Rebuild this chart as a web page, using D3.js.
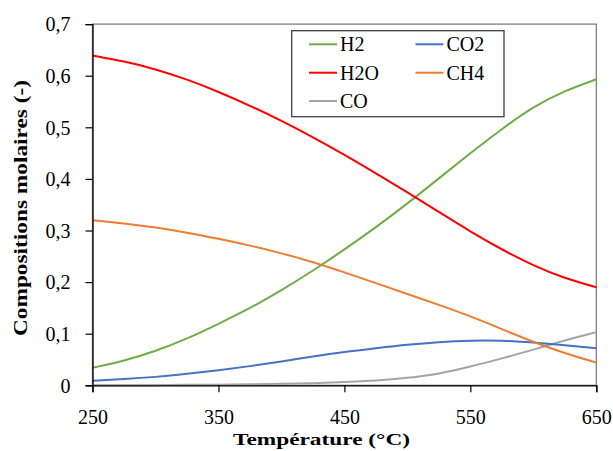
<!DOCTYPE html>
<html><head><meta charset="utf-8">
<script src="https://cdn.jsdelivr.net/npm/d3@7"></script>
<style>
html,body{margin:0;padding:0;background:#fff;}
svg{display:block;}
</style></head>
<body>
<svg id="chart" width="613" height="451"></svg>
<script>
// ---- data ----
const temperatures = [250,275,300,325,350,375,400,425,450,475,500,525,550,575,600,625,650];
const H2  = [0.034,0.047,0.066,0.090,0.119,0.149,0.184,0.222,0.263,0.306,0.352,0.401,0.450,0.497,0.540,0.571,0.593];
const H2O = [0.639,0.628,0.613,0.593,0.569,0.542,0.513,0.481,0.447,0.411,0.374,0.336,0.298,0.263,0.232,0.207,0.190];
const CO2 = [0.009,0.012,0.016,0.022,0.029,0.037,0.046,0.056,0.065,0.072,0.079,0.084,0.087,0.087,0.083,0.078,0.072];
const CH4 = [0.320,0.314,0.306,0.296,0.284,0.271,0.256,0.239,0.219,0.198,0.177,0.156,0.134,0.109,0.084,0.062,0.044];
const CO  = [0.000,0.000,0.000,0.001,0.001,0.002,0.003,0.004,0.006,0.009,0.014,0.022,0.036,0.052,0.069,0.087,0.103];
const xTicks = [250,350,450,550,650];
const yTicks = [0,0.1,0.2,0.3,0.4,0.5,0.6,0.7];
const seriesColors = {"H2":"#70AD47","H2O":"#FF0000","CO":"#A5A5A5","CO2":"#4472C4","CH4":"#ED7D31"};
const seriesValues = {"H2":H2,"H2O":H2O,"CO":CO,"CO2":CO2,"CH4":CH4};
const xTitle = "Température (°C)";
const yTitle = "Compositions molaires (-)";

const FONT = "'Liberation Serif', 'DejaVu Serif', serif";

// ---- layout ----
const L = 92.5, R = 596.3, T = 24.1, B = 385.3;
const svg = d3.select("#chart");
const x = d3.scaleLinear().domain([250,650]).range([L,R]);
const y = d3.scaleLinear().domain([0,0.7]).range([B,T]);
const fmt = d => d === 0 ? "0" : d3.format(".1f")(d).replace(".", ",");

// frame (top and right border)
svg.append("rect").attr("x",L).attr("y",T).attr("width",R-L).attr("height",B-T)
  .attr("fill","none").attr("stroke","#7f7f7f").attr("stroke-width",1.3);

// lines
const line = d3.line().x((d,i)=>x(temperatures[i])).y(d=>y(d)).curve(d3.curveBasis);
["CO","CO2","CH4","H2","H2O"].forEach(n=>{
  svg.append("path").datum(seriesValues[n]).attr("d",line)
    .attr("fill","none").attr("stroke",seriesColors[n]).attr("stroke-width",2);
});

// axes
const xAxis = svg.append("g").attr("transform",`translate(0,${B})`)
  .call(d3.axisBottom(x).tickValues(xTicks).tickSize(7).tickPadding(18).tickFormat(d3.format("d")));
const yAxis = svg.append("g").attr("transform",`translate(${L},0)`)
  .call(d3.axisLeft(y).tickValues(yTicks).tickSize(7).tickPadding(15).tickFormat(fmt));
[xAxis,yAxis].forEach(g=>{
  g.attr("font-family",null);
  g.select(".domain").attr("stroke","#000").attr("stroke-width",1.3);
  g.selectAll(".tick line").attr("stroke","#000").attr("stroke-width",1.2);
  g.selectAll("text").style("font-family",FONT).style("font-size","20px").attr("fill","#000");
});
yAxis.selectAll("text").attr("dy","0.34em");

// axis titles
svg.append("text").attr("x",321.5).attr("y",445).attr("text-anchor","middle")
  .style("font-family",FONT).style("font-size","17px").style("font-weight","bold")
  .attr("textLength",177).attr("lengthAdjust","spacingAndGlyphs").text(xTitle);
svg.append("text").attr("transform","translate(27,208) rotate(-90)").attr("text-anchor","middle")
  .style("font-family",FONT).style("font-size","18px").style("font-weight","bold")
  .attr("textLength",256).attr("lengthAdjust","spacingAndGlyphs").text(yTitle);

// legend
const lg = svg.append("g");
lg.append("rect").attr("x",291.7).attr("y",30.7).attr("width",212.3).attr("height",86)
  .attr("fill","#fff").attr("stroke","#404040").attr("stroke-width",1.3);
const legendItems = [
  {n:"H2",col:0,row:0},{n:"CO2",col:1,row:0},
  {n:"H2O",col:0,row:1},{n:"CH4",col:1,row:1},
  {n:"CO",col:0,row:2}
];
const colX = [309,415.5], rowY = [44.3,72.7,101];
legendItems.forEach(it=>{
  const x0 = colX[it.col], yy = rowY[it.row];
  lg.append("line").attr("x1",x0).attr("x2",x0+28).attr("y1",yy).attr("y2",yy)
    .attr("stroke",seriesColors[it.n]).attr("stroke-width",2);
  lg.append("text").attr("x",x0+31).attr("y",yy).attr("dy","0.35em")
    .style("font-family",FONT).style("font-size","20px").attr("fill","#000").text(it.n);
});
</script>
</body></html>
